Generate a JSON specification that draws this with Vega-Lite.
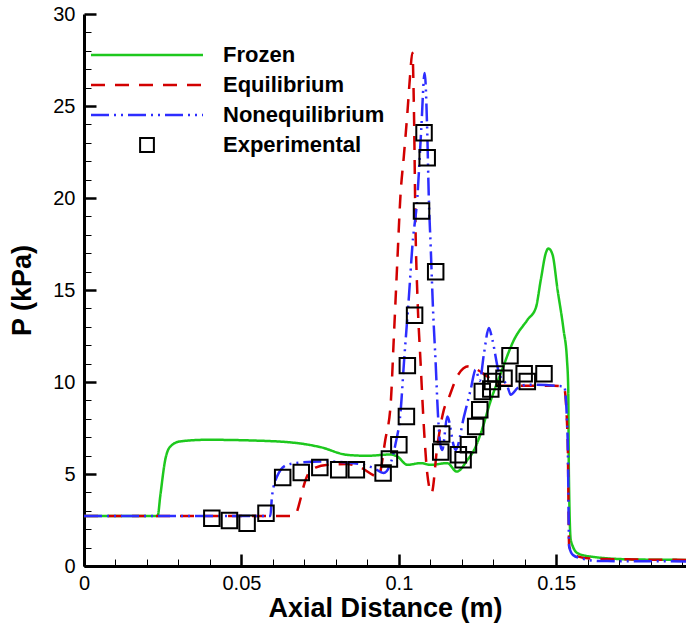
{
  "$schema": "https://vega.github.io/schema/vega-lite/v6.json",
  "width": 602,
  "height": 552,
  "autosize": {"type": "none"},
  "padding": {"left": 84, "top": 14, "right": 0, "bottom": 63},
  "background": "white",
  "config": {
    "view": {"stroke": null},
    "font": "Liberation Sans",
    "axis": {
      "grid": false,
      "domainColor": "black",
      "domainWidth": 3,
      "tickColor": "black",
      "labelColor": "black",
      "titleColor": "black",
      "labelFont": "Liberation Sans",
      "titleFont": "Liberation Sans",
      "labelFontSize": 20,
      "titleFontSize": 27,
      "titleFontWeight": "bold",
      "labelFlush": false,
      "labelOverlap": false
    }
  },
  "resolve": {"axis": {"x": "independent", "y": "independent"}},
  "datasets": {
    "curves": [
      {"series": "Frozen", "x": 0, "p": 2.72},
      {"series": "Frozen", "x": 0.0234, "p": 2.72},
      {"series": "Frozen", "x": 0.0242, "p": 3.77},
      {"series": "Frozen", "x": 0.0258, "p": 5.77},
      {"series": "Frozen", "x": 0.0274, "p": 6.49},
      {"series": "Frozen", "x": 0.0305, "p": 6.77},
      {"series": "Frozen", "x": 0.039, "p": 6.86},
      {"series": "Frozen", "x": 0.0538, "p": 6.82},
      {"series": "Frozen", "x": 0.0677, "p": 6.68},
      {"series": "Frozen", "x": 0.0751, "p": 6.46},
      {"series": "Frozen", "x": 0.0836, "p": 6.04},
      {"series": "Frozen", "x": 0.0899, "p": 5.99},
      {"series": "Frozen", "x": 0.0974, "p": 6.06},
      {"series": "Frozen", "x": 0.0995, "p": 5.95},
      {"series": "Frozen", "x": 0.1027, "p": 5.5},
      {"series": "Frozen", "x": 0.1069, "p": 5.59},
      {"series": "Frozen", "x": 0.1101, "p": 5.5},
      {"series": "Frozen", "x": 0.1154, "p": 5.59},
      {"series": "Frozen", "x": 0.1184, "p": 5.13},
      {"series": "Frozen", "x": 0.1218, "p": 5.77},
      {"series": "Frozen", "x": 0.1239, "p": 6.31},
      {"series": "Frozen", "x": 0.126, "p": 7.2},
      {"series": "Frozen", "x": 0.1292, "p": 9.0},
      {"series": "Frozen", "x": 0.1324, "p": 10.49},
      {"series": "Frozen", "x": 0.1366, "p": 12.3},
      {"series": "Frozen", "x": 0.1409, "p": 13.39},
      {"series": "Frozen", "x": 0.1435, "p": 14.03},
      {"series": "Frozen", "x": 0.1451, "p": 15.57},
      {"series": "Frozen", "x": 0.1467, "p": 17.02},
      {"series": "Frozen", "x": 0.1475, "p": 17.26},
      {"series": "Frozen", "x": 0.1488, "p": 16.93},
      {"series": "Frozen", "x": 0.1504, "p": 15.02},
      {"series": "Frozen", "x": 0.1523, "p": 12.85},
      {"series": "Frozen", "x": 0.1534, "p": 11.2},
      {"series": "Frozen", "x": 0.1538, "p": 9.6},
      {"series": "Frozen", "x": 0.154, "p": 5.0},
      {"series": "Frozen", "x": 0.1546, "p": 1.42},
      {"series": "Frozen", "x": 0.1568, "p": 0.69},
      {"series": "Frozen", "x": 0.161, "p": 0.51},
      {"series": "Frozen", "x": 0.1737, "p": 0.36},
      {"series": "Frozen", "x": 0.1915, "p": 0.33},

      {"series": "Equilibrium", "x": 0, "p": 2.72},
      {"series": "Equilibrium", "x": 0.0665, "p": 2.72},
      {"series": "Equilibrium", "x": 0.0675, "p": 2.9},
      {"series": "Equilibrium", "x": 0.0687, "p": 3.6},
      {"series": "Equilibrium", "x": 0.0697, "p": 4.3},
      {"series": "Equilibrium", "x": 0.0712, "p": 5.0},
      {"series": "Equilibrium", "x": 0.0735, "p": 5.35},
      {"series": "Equilibrium", "x": 0.0775, "p": 5.5},
      {"series": "Equilibrium", "x": 0.0836, "p": 5.54},
      {"series": "Equilibrium", "x": 0.0878, "p": 5.35},
      {"series": "Equilibrium", "x": 0.0935, "p": 4.86},
      {"series": "Equilibrium", "x": 0.0957, "p": 6.86},
      {"series": "Equilibrium", "x": 0.0974, "p": 8.8},
      {"series": "Equilibrium", "x": 0.0984, "p": 12.4},
      {"series": "Equilibrium", "x": 0.0995, "p": 16.5},
      {"series": "Equilibrium", "x": 0.1005, "p": 20.1},
      {"series": "Equilibrium", "x": 0.1016, "p": 22.3},
      {"series": "Equilibrium", "x": 0.1027, "p": 24.6},
      {"series": "Equilibrium", "x": 0.1035, "p": 26.5},
      {"series": "Equilibrium", "x": 0.1043, "p": 27.9},
      {"series": "Equilibrium", "x": 0.1048, "p": 24.7},
      {"series": "Equilibrium", "x": 0.1053, "p": 18.3},
      {"series": "Equilibrium", "x": 0.1059, "p": 14.66},
      {"series": "Equilibrium", "x": 0.1069, "p": 11.05},
      {"series": "Equilibrium", "x": 0.108, "p": 7.4},
      {"series": "Equilibrium", "x": 0.109, "p": 5.06},
      {"series": "Equilibrium", "x": 0.1104, "p": 3.97},
      {"series": "Equilibrium", "x": 0.1122, "p": 6.5},
      {"series": "Equilibrium", "x": 0.1143, "p": 8.5},
      {"series": "Equilibrium", "x": 0.116, "p": 9.2},
      {"series": "Equilibrium", "x": 0.1175, "p": 9.9},
      {"series": "Equilibrium", "x": 0.1185, "p": 10.3},
      {"series": "Equilibrium", "x": 0.1222, "p": 10.85},
      {"series": "Equilibrium", "x": 0.1249, "p": 10.67},
      {"series": "Equilibrium", "x": 0.1281, "p": 10.3},
      {"series": "Equilibrium", "x": 0.1324, "p": 9.8},
      {"series": "Equilibrium", "x": 0.1492, "p": 9.8},
      {"series": "Equilibrium", "x": 0.1524, "p": 9.75},
      {"series": "Equilibrium", "x": 0.1536, "p": 7.0},
      {"series": "Equilibrium", "x": 0.1541, "p": 1.05},
      {"series": "Equilibrium", "x": 0.1562, "p": 0.55},
      {"series": "Equilibrium", "x": 0.161, "p": 0.4},
      {"series": "Equilibrium", "x": 0.1915, "p": 0.33},

      {"series": "Nonequilibrium", "x": 0, "p": 2.72},
      {"series": "Nonequilibrium", "x": 0.0592, "p": 2.72},
      {"series": "Nonequilibrium", "x": 0.0597, "p": 3.77},
      {"series": "Nonequilibrium", "x": 0.0613, "p": 4.86},
      {"series": "Nonequilibrium", "x": 0.0645, "p": 5.5},
      {"series": "Nonequilibrium", "x": 0.0687, "p": 5.62},
      {"series": "Nonequilibrium", "x": 0.0772, "p": 5.68},
      {"series": "Nonequilibrium", "x": 0.0857, "p": 5.59},
      {"series": "Nonequilibrium", "x": 0.092, "p": 5.32},
      {"series": "Nonequilibrium", "x": 0.0952, "p": 5.05},
      {"series": "Nonequilibrium", "x": 0.0974, "p": 5.59},
      {"series": "Nonequilibrium", "x": 0.099, "p": 6.68},
      {"series": "Nonequilibrium", "x": 0.1005, "p": 8.3},
      {"series": "Nonequilibrium", "x": 0.1016, "p": 11.0},
      {"series": "Nonequilibrium", "x": 0.1032, "p": 14.66},
      {"series": "Nonequilibrium", "x": 0.1043, "p": 17.4},
      {"series": "Nonequilibrium", "x": 0.1059, "p": 20.1},
      {"series": "Nonequilibrium", "x": 0.1071, "p": 23.7},
      {"series": "Nonequilibrium", "x": 0.1082, "p": 26.8},
      {"series": "Nonequilibrium", "x": 0.109, "p": 23.7},
      {"series": "Nonequilibrium", "x": 0.1095, "p": 20.1},
      {"series": "Nonequilibrium", "x": 0.1101, "p": 17.4},
      {"series": "Nonequilibrium", "x": 0.1109, "p": 13.76},
      {"series": "Nonequilibrium", "x": 0.1117, "p": 11.0},
      {"series": "Nonequilibrium", "x": 0.1124, "p": 8.3},
      {"series": "Nonequilibrium", "x": 0.1133, "p": 6.5},
      {"series": "Nonequilibrium", "x": 0.1138, "p": 6.31},
      {"series": "Nonequilibrium", "x": 0.1154, "p": 8.13},
      {"series": "Nonequilibrium", "x": 0.1175, "p": 6.5},
      {"series": "Nonequilibrium", "x": 0.118, "p": 6.3},
      {"series": "Nonequilibrium", "x": 0.1207, "p": 8.13},
      {"series": "Nonequilibrium", "x": 0.1228, "p": 9.58},
      {"series": "Nonequilibrium", "x": 0.1244, "p": 10.67},
      {"series": "Nonequilibrium", "x": 0.1257, "p": 10.07},
      {"series": "Nonequilibrium", "x": 0.127, "p": 11.5},
      {"series": "Nonequilibrium", "x": 0.1286, "p": 12.94},
      {"series": "Nonequilibrium", "x": 0.1297, "p": 12.3},
      {"series": "Nonequilibrium", "x": 0.1318, "p": 10.49},
      {"series": "Nonequilibrium", "x": 0.1345, "p": 9.76},
      {"series": "Nonequilibrium", "x": 0.1355, "p": 9.31},
      {"series": "Nonequilibrium", "x": 0.1377, "p": 9.67},
      {"series": "Nonequilibrium", "x": 0.1409, "p": 9.85},
      {"series": "Nonequilibrium", "x": 0.1525, "p": 9.76},
      {"series": "Nonequilibrium", "x": 0.1536, "p": 7.0},
      {"series": "Nonequilibrium", "x": 0.1541, "p": 1.05},
      {"series": "Nonequilibrium", "x": 0.1553, "p": 0.6},
      {"series": "Nonequilibrium", "x": 0.1578, "p": 0.42},
      {"series": "Nonequilibrium", "x": 0.1642, "p": 0.27},
      {"series": "Nonequilibrium", "x": 0.1915, "p": 0.25}
    ],
    "experimental": [
      {"series": "Experimental", "x": 0.0406, "p": 2.6},
      {"series": "Experimental", "x": 0.0462, "p": 2.47},
      {"series": "Experimental", "x": 0.0518, "p": 2.32},
      {"series": "Experimental", "x": 0.0578, "p": 2.87},
      {"series": "Experimental", "x": 0.0631, "p": 4.81},
      {"series": "Experimental", "x": 0.069, "p": 5.08},
      {"series": "Experimental", "x": 0.0749, "p": 5.35},
      {"series": "Experimental", "x": 0.0809, "p": 5.23},
      {"series": "Experimental", "x": 0.0865, "p": 5.23},
      {"series": "Experimental", "x": 0.095, "p": 5.05},
      {"series": "Experimental", "x": 0.097, "p": 5.81},
      {"series": "Experimental", "x": 0.1, "p": 6.59},
      {"series": "Experimental", "x": 0.1024, "p": 8.13},
      {"series": "Experimental", "x": 0.1027, "p": 10.89},
      {"series": "Experimental", "x": 0.105, "p": 13.63},
      {"series": "Experimental", "x": 0.1072, "p": 19.29},
      {"series": "Experimental", "x": 0.108, "p": 23.55},
      {"series": "Experimental", "x": 0.109, "p": 22.19},
      {"series": "Experimental", "x": 0.1117, "p": 15.99},
      {"series": "Experimental", "x": 0.1136, "p": 7.17},
      {"series": "Experimental", "x": 0.1133, "p": 6.19},
      {"series": "Experimental", "x": 0.1189, "p": 6.04},
      {"series": "Experimental", "x": 0.1204, "p": 5.77},
      {"series": "Experimental", "x": 0.1221, "p": 6.59},
      {"series": "Experimental", "x": 0.1244, "p": 7.58},
      {"series": "Experimental", "x": 0.1257, "p": 8.49},
      {"series": "Experimental", "x": 0.1265, "p": 9.49},
      {"series": "Experimental", "x": 0.1292, "p": 9.62},
      {"series": "Experimental", "x": 0.1297, "p": 10.03},
      {"series": "Experimental", "x": 0.1308, "p": 10.43},
      {"series": "Experimental", "x": 0.1334, "p": 10.21},
      {"series": "Experimental", "x": 0.1353, "p": 11.43},
      {"series": "Experimental", "x": 0.1398, "p": 10.45},
      {"series": "Experimental", "x": 0.1408, "p": 10.03},
      {"series": "Experimental", "x": 0.1461, "p": 10.45}
    ]
  },
  "encoding": {
    "color": {
      "field": "series",
      "type": "nominal",
      "scale": {
        "domain": ["Frozen", "Equilibrium", "Nonequilibrium", "Experimental"],
        "range": ["#1ec81e", "#d20000", "#2d2dff", "#000000"]
      },
      "legend": {
        "title": null,
        "orient": "none",
        "legendX": 7,
        "legendY": 30,
        "padding": 0,
        "symbolType": "stroke",
        "symbolSize": 12544,
        "symbolStrokeWidth": 2.5,
        "labelFont": "Liberation Sans",
        "labelFontSize": 22,
        "labelFontWeight": "bold",
        "labelColor": "black",
        "rowPadding": 8,
        "labelLimit": 300,
        "encode": {
          "symbols": {
            "update": {
              "x": {"value": 56},
              "shape": {"signal": "datum.value === 'Experimental' ? 'square' : 'stroke'"},
              "size": {"signal": "datum.value === 'Experimental' ? 190 : 12544"},
              "strokeWidth": {"signal": "datum.value === 'Experimental' ? 2 : 2.5"}
            }
          },
          "labels": {
            "update": {
              "x": {"value": 132}
            }
          }
        }
      }
    }
  },
  "layer": [
    {
      "data": {"name": "curves"},
      "mark": {"type": "line", "strokeWidth": 2.5, "clip": true, "interpolate": "monotone"},
      "encoding": {
        "x": {
          "field": "x",
          "type": "quantitative",
          "scale": {"domain": [0, 0.1912], "nice": false, "zero": false},
          "axis": {
            "title": "Axial Distance (m)",
            "orient": "bottom",
            "values": [0, 0.05, 0.1, 0.15],
            "format": "~g",
            "tickSize": -12,
            "tickWidth": 2.5,
            "labelPadding": 19,
            "titlePadding": 2
          }
        },
        "y": {
          "field": "p",
          "type": "quantitative",
          "scale": {"domain": [0, 30], "nice": false},
          "axis": {
            "title": "P (kPa)",
            "orient": "left",
            "values": [0, 5, 10, 15, 20, 25, 30],
            "tickSize": -12,
            "tickWidth": 2.5,
            "labelPadding": 21,
            "titlePadding": 16
          }
        },
        "strokeDash": {
          "field": "series",
          "type": "nominal",
          "scale": {
            "domain": ["Frozen", "Equilibrium", "Nonequilibrium", "Experimental"],
            "range": [[1, 0], [14, 10], [18, 5, 2, 5, 2, 5], [1, 0]]
          },
          "legend": {"title": null}
        }
      }
    },
    {
      "data": {"name": "experimental"},
      "mark": {"type": "point", "shape": "square", "filled": false, "size": 240, "strokeWidth": 2, "opacity": 1, "clip": true},
      "encoding": {
        "x": {
          "field": "x",
          "type": "quantitative",
          "scale": {"domain": [0, 0.1912], "nice": false, "zero": false},
          "axis": {
            "title": null,
            "orient": "bottom",
            "values": [0, 0.01, 0.02, 0.03, 0.04, 0.06, 0.07, 0.08, 0.09, 0.11, 0.12, 0.13, 0.14, 0.16, 0.17, 0.18, 0.19],
            "labels": false,
            "domain": false,
            "tickSize": -7,
            "tickWidth": 1
          }
        },
        "y": {
          "field": "p",
          "type": "quantitative",
          "scale": {"domain": [0, 30], "nice": false},
          "axis": {
            "title": null,
            "orient": "left",
            "values": [1, 2, 3, 4, 6, 7, 8, 9, 11, 12, 13, 14, 16, 17, 18, 19, 21, 22, 23, 24, 26, 27, 28, 29],
            "labels": false,
            "domain": false,
            "tickSize": -7,
            "tickWidth": 1
          }
        }
      }
    }
  ]
}
